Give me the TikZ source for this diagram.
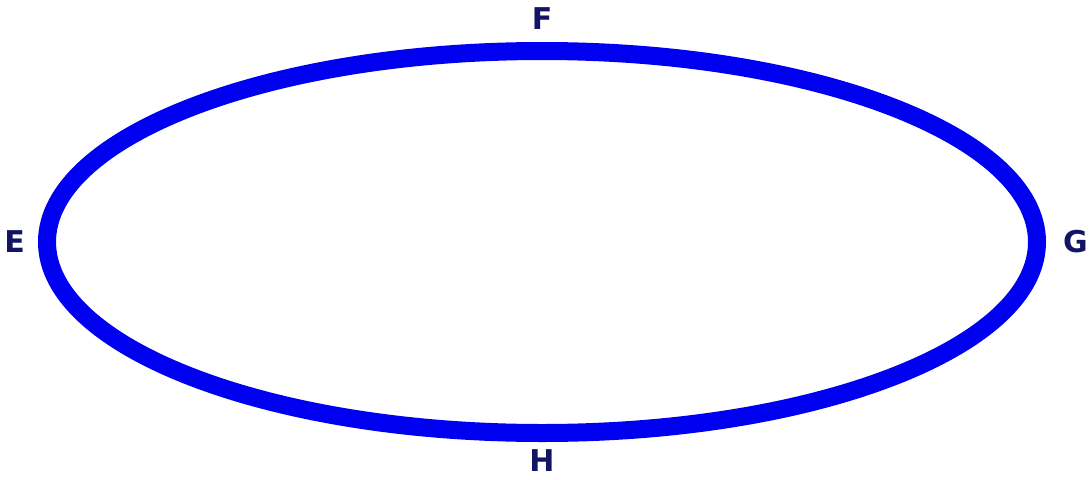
\documentclass[tikz,border=0pt]{standalone}
\usepackage{fontspec}
\setsansfont{DejaVu Sans}
\usetikzlibrary{positioning,shapes.geometric}
\definecolor{ringblue}{RGB}{0,0,240}
\definecolor{lblnavy}{RGB}{20,20,100}
\begin{document}
\begin{tikzpicture}[x=1pt,y=-1pt,ring/.style={draw=ringblue,ellipse,line width=18pt,minimum width=990pt,minimum height=382pt,inner sep=0pt},lbl/.style={text=lblnavy,font=\sffamily\bfseries\fontsize{30}{30}\selectfont,inner sep=0pt}]
\useasboundingbox (0,0) rectangle (1089,479);
\node[ring](loop) at (542,242){};
\node[lbl,above=12pt of loop.north](F){F};
\node[lbl,left=13pt of loop.west](E){E};
\node[lbl,right=17pt of loop.east](G){G};
\node[lbl,below=7pt of loop.south](H){H};
\end{tikzpicture}
\end{document}
